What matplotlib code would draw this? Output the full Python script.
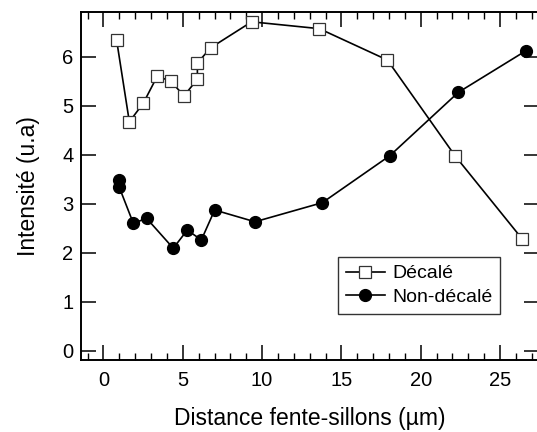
import numpy as np
import matplotlib.pyplot as plt
from matplotlib.ticker import MultipleLocator

plt.rcParams['font.family'] = ['Liberation Sans', 'DejaVu Sans']

# Décalé (open squares)
x_dec = [0.83, 1.63, 2.51, 3.39, 4.23, 5.08, 5.92, 5.92, 6.76, 9.34, 13.61, 17.9, 22.18, 26.4]
y_dec = [6.33, 4.67, 5.05, 5.60, 5.50, 5.20, 5.54, 5.87, 6.18, 6.71, 6.57, 5.93, 3.97, 2.28]

# Non-décalé (filled circles)
x_non = [1.0, 1.0, 1.88, 2.72, 4.4, 5.28, 6.17, 7.01, 9.55, 13.8, 18.06, 22.37, 26.64]
y_non = [3.48, 3.33, 2.60, 2.70, 2.09, 2.46, 2.26, 2.87, 2.63, 3.02, 3.98, 5.27, 6.12]

fig = plt.figure(figsize=(5.37, 4.32), dpi=100)
ax = fig.add_axes([80.5/537, 1-360/432, (539-80.5)/537, (360-12)/432])

ax.plot(x_dec, y_dec, color='black', lw=1.2, marker='s', ms=8.5,
        mfc='white', mec='#333333', mew=0.9, label='Décalé')
ax.plot(x_non, y_non, color='black', lw=1.2, marker='o', ms=8.5,
        mfc='black', mec='black', label='Non-décalé')

ax.set_xlim(-1.45, 27.46)
ax.set_ylim(-0.19, 6.91)

ax.xaxis.set_major_locator(MultipleLocator(5))
ax.xaxis.set_minor_locator(MultipleLocator(1))
ax.yaxis.set_major_locator(MultipleLocator(1))

ax.tick_params(axis='x', which='major', direction='in', length=10.5, width=1.1,
               top=True, labelsize=14.5, pad=8)
ax.tick_params(axis='x', which='minor', direction='in', length=5.3, width=1.0, top=True)
ax.tick_params(axis='y', which='major', direction='in', length=10.5, width=1.1,
               right=True, labelsize=14.5, pad=5)

for s in ['left', 'bottom', 'top']:
    ax.spines[s].set_linewidth(1.4)
ax.spines['right'].set_visible(False)

ax.set_xlabel('Distance fente-sillons (µm)', fontsize=16.5, labelpad=12)
ax.set_ylabel('Intensité (u.a)', fontsize=16.5, labelpad=16)

leg = ax.legend(loc='upper left', bbox_to_anchor=((338-80.5)/458.5, (360-257)/348),
                fontsize=14, frameon=True, fancybox=False, edgecolor='black',
                handlelength=2.0, handletextpad=0.4, borderpad=0.4, labelspacing=0.3,
                borderaxespad=0)
leg.get_frame().set_linewidth(1.0)

fig.savefig('out.png', dpi=100)
